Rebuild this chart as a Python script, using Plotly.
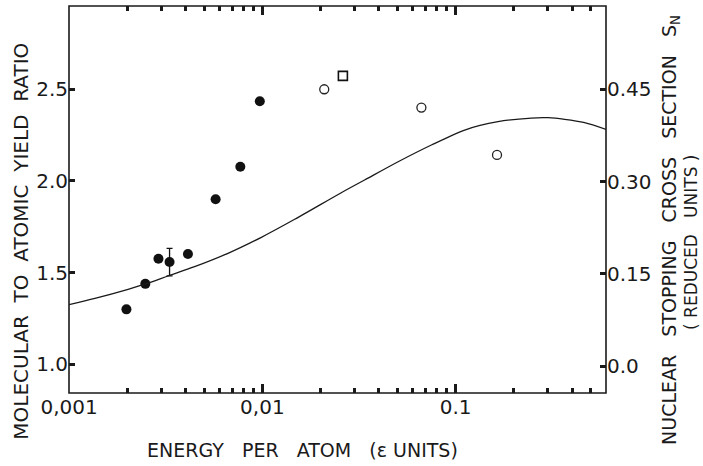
import plotly.graph_objects as go

# ---- data ----
filled_x = [0.00198, 0.00248, 0.0029, 0.00331, 0.00412, 0.00573, 0.00769, 0.0097]
filled_y = [1.300, 1.439, 1.576, 1.558, 1.602, 1.900, 2.078, 2.435]
filled_err = [0, 0, 0, 0.075, 0, 0, 0, 0]

open_x = [0.0209, 0.0665, 0.1637]
open_y = [2.500, 2.400, 2.142]

square_x = [0.0261]
square_y = [2.573]

curve_x = [0.001, 0.00136, 0.00202, 0.00248, 0.00325, 0.00446, 0.00664, 0.00988,
           0.0147, 0.0256, 0.0338, 0.0504, 0.0749, 0.1114, 0.1656, 0.2466,
           0.3006, 0.3664, 0.465, 0.6]
curve_sn = [0.100, 0.110, 0.1247, 0.1334, 0.1464, 0.1615, 0.1833, 0.2093,
            0.2386, 0.2818, 0.3025, 0.3322, 0.3594, 0.3838, 0.3973, 0.4033,
            0.4038, 0.4012, 0.3957, 0.3849]

x_tickvals = [0.001, 0.01, 0.1]
x_ticktext = ["0,001", "0,01", "0.1"]
x_minor = [0.002, 0.003, 0.004, 0.005, 0.006, 0.007, 0.008, 0.009,
           0.02, 0.03, 0.04, 0.05, 0.06, 0.07, 0.08, 0.09,
           0.2, 0.3, 0.4, 0.5, 0.6]
y_tickvals = [1.0, 1.5, 2.0, 2.5]
y_ticktext = ["1.0", "1.5", "2.0", "2.5"]
y2_tickvals = [0.0, 0.15, 0.30, 0.45]
y2_ticktext = ["0.0", "0.15", "0.30", "0.45"]

INK = "#1a1a1a"
TICKFONT = dict(family="DejaVu Sans, sans-serif", size=20, color=INK)
TITLEFONT = dict(family="DejaVu Sans, sans-serif", size=19, color=INK)
SP = "\u00a0\u00a0\u00a0"
SP2 = "\u00a0\u00a0"
XRANGE = [-3.0005, -0.222]
TW = 3
TWM = 2.5

fig = go.Figure()

fig.add_trace(go.Scatter(
    x=curve_x, y=curve_sn, mode="lines", xaxis="x2", yaxis="y2",
    line=dict(color=INK, width=1.3, shape="spline", smoothing=0.8),
    showlegend=False, hoverinfo="skip"))

fig.add_trace(go.Scatter(
    x=filled_x, y=filled_y, mode="markers",
    marker=dict(symbol="circle", size=10, color="#111111"),
    error_y=dict(type="data", array=filled_err, visible=True, color="#111111",
                 thickness=1.3, width=3),
    showlegend=False))

fig.add_trace(go.Scatter(
    x=open_x, y=open_y, mode="markers",
    marker=dict(symbol="circle-open", size=9, color="#222222", line=dict(width=1.3)),
    showlegend=False))

fig.add_trace(go.Scatter(
    x=square_x, y=square_y, mode="markers",
    marker=dict(symbol="square-open", size=9, color="#111111", line=dict(width=1.6)),
    showlegend=False))

fig.update_layout(
    template="none",
    width=703, height=466,
    margin=dict(l=69, r=97, t=6, b=73),
    paper_bgcolor="white", plot_bgcolor="white",
    xaxis=dict(
        type="log", range=XRANGE,
        tickmode="array", tickvals=x_tickvals, ticktext=x_ticktext,
        ticks="inside", ticklen=9, tickwidth=TW, tickcolor=INK,
        minor=dict(ticks="inside", ticklen=5, tickwidth=TWM, tickcolor=INK,
                   tickmode="array", tickvals=x_minor, showgrid=False),
        showline=False, showgrid=False, zeroline=False, tickfont=TICKFONT,
    ),
    xaxis2=dict(
        type="log", range=XRANGE, overlaying="x", side="top", anchor="y",
        tickmode="array", tickvals=x_tickvals, showticklabels=False,
        ticks="inside", ticklen=9, tickwidth=TW, tickcolor=INK,
        minor=dict(ticks="inside", ticklen=5, tickwidth=TWM, tickcolor=INK,
                   tickmode="array", tickvals=x_minor, showgrid=False),
        showline=False, showgrid=False, zeroline=False,
    ),
    yaxis=dict(
        range=[0.844, 2.954],
        tickmode="array", tickvals=y_tickvals, ticktext=y_ticktext,
        ticks="inside", ticklen=6, tickwidth=TW, tickcolor=INK,
        showline=False, showgrid=False, zeroline=False, tickfont=TICKFONT,
    ),
    yaxis2=dict(
        overlaying="y", side="right", anchor="x",
        range=[-0.0439, 0.5855],
        tickmode="array", tickvals=y2_tickvals, ticktext=y2_ticktext,
        ticks="inside", ticklen=6, tickwidth=TW, tickcolor=INK,
        showline=False, showgrid=False, zeroline=False, tickfont=TICKFONT,
    ),
    shapes=[
        dict(type="rect", xref="paper", yref="paper", x0=0, y0=0, x1=1, y1=1,
             line=dict(color=INK, width=1.6), fillcolor="rgba(0,0,0,0)", layer="above"),
    ],
    annotations=[
        dict(text="MOLECULAR" + SP2 + "TO" + SP2 + "ATOMIC" + SP2 + "YIELD" + SP2 + "RATIO",
             xref="paper", yref="paper", x=-0.0898, y=0.393, xanchor="center", yanchor="middle",
             textangle=-90, showarrow=False, font=dict(TITLEFONT, size=20)),
        dict(text="ENERGY" + SP + "PER" + SP + "ATOM" + SP + "(ε UNITS)",
             xref="paper", yref="paper", x=0.434, y=-0.148, xanchor="center", yanchor="middle",
             showarrow=False, font=TITLEFONT),
        dict(text="NUCLEAR" + SP + "STOPPING" + SP + "CROSS" + SP + "SECTION" + SP + "S<sub>N</sub>",
             xref="paper", yref="paper", x=1.119, y=0.421, xanchor="center", yanchor="middle",
             textangle=-90, showarrow=False, font=TITLEFONT),
        dict(text="( REDUCED" + SP + "UNITS )",
             xref="paper", yref="paper", x=1.158, y=0.390, xanchor="center", yanchor="middle",
             textangle=-90, showarrow=False, font=dict(TITLEFONT, size=17)),
    ],
)

fig.write_html("out.html", config={"displayModeBar": False},
               post_script="document.body.style.margin='0';document.body.style.padding='0';")
